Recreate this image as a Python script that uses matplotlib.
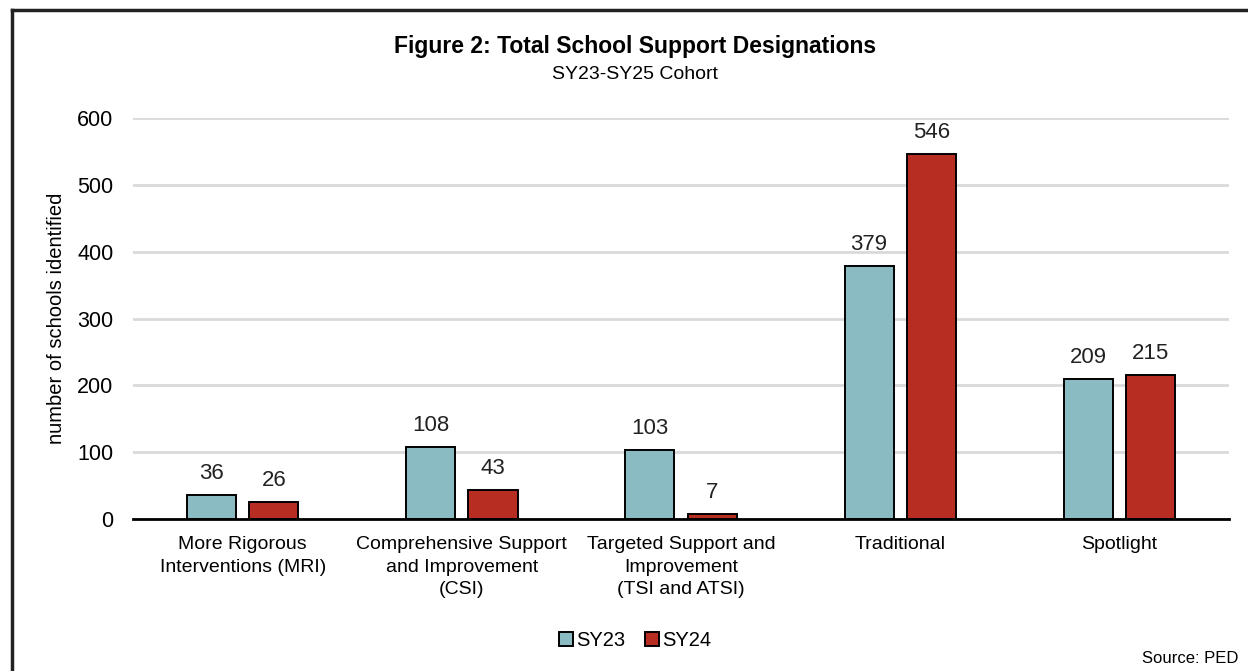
import numpy as np
import matplotlib
matplotlib.use("Agg")
import matplotlib.pyplot as plt
from matplotlib.lines import Line2D

# Support designation counts by cohort year
categories = ["More Rigorous\nInterventions (MRI)",
              "Comprehensive Support\nand Improvement\n(CSI)",
              "Targeted Support and\nImprovement\n(TSI and ATSI)",
              "Traditional",
              "Spotlight"]
sy23 = [36, 108, 103, 379, 209]
sy24 = [26, 43, 7, 546, 215]
series_names = ["SY23", "SY24"]
yticks = [0, 100, 200, 300, 400, 500, 600]

TEAL = "#8BBBC2"
RED = "#B82D22"

plt.rcParams['font.family'] = ['Liberation Sans', 'DejaVu Sans']

fig = plt.figure(figsize=(12.48, 6.71), dpi=100)
ax = fig.add_axes([0.1066, 0.2265, 0.8782, 0.5976])

x = np.arange(len(categories))
w = 0.224
off = 0.142
b1 = ax.bar(x - off, sy23, width=w, color=TEAL, edgecolor="black", linewidth=1.4,
            label=series_names[0], zorder=3)
b2 = ax.bar(x + off, sy24, width=w, color=RED, edgecolor="black", linewidth=1.4,
            label=series_names[1], zorder=3)

for bars, vals in ((b1, sy23), (b2, sy24)):
    for r, v in zip(bars, vals):
        ax.annotate(str(v), (r.get_x() + r.get_width() / 2, v),
                    xytext=(0, 8), textcoords="offset points",
                    ha="center", va="bottom", fontsize=16, color="#222222")

ax.set_xlim(-0.5, len(categories) - 0.5)
ax.set_ylim(0, 600)
ax.set_yticks(yticks)
ax.set_xticks(x)
ax.set_xticklabels(categories, fontsize=14, linespacing=1.45)
ax.tick_params(axis="both", length=0, labelsize=15.5)
ax.tick_params(axis="x", pad=12, labelsize=14)
ax.tick_params(axis="y", pad=14)
ax.grid(axis="y", color="#D9D9D9", linewidth=2, zorder=0)
ax.set_axisbelow(True)
for s in ("top", "right", "left"):
    ax.spines[s].set_visible(False)
ax.spines["bottom"].set_linewidth(2)
ax.spines["bottom"].set_zorder(4)
ax.set_ylabel("number of schools identified", fontsize=14.5, labelpad=8)

fig.text(0.509, 0.931, "Figure 2: Total School Support Designations",
         ha="center", va="center", fontsize=16.5, fontweight="bold")
fig.text(0.509, 0.889, "SY23-SY25 Cohort", ha="center", va="center",
         fontsize=14)

leg = fig.legend(handles=[b1, b2], loc="center", bbox_to_anchor=(0.509, 0.046),
                 ncol=2, frameon=False, fontsize=14.5, handlelength=0.7,
                 handleheight=0.7, handletextpad=0.15, columnspacing=1.0)

fig.text(0.992, 0.018, "Source: PED", ha="right", va="center", fontsize=12)

# outer frame along the top and left edges
fig.add_artist(Line2D([0.0096, 0.0096], [0.0, 0.985], transform=fig.transFigure,
                      color="#222222", linewidth=2.5))
fig.add_artist(Line2D([0.0096, 1.0], [0.985, 0.985], transform=fig.transFigure,
                      color="#222222", linewidth=2.5))

fig.savefig("out.png", dpi=100, facecolor="white")
